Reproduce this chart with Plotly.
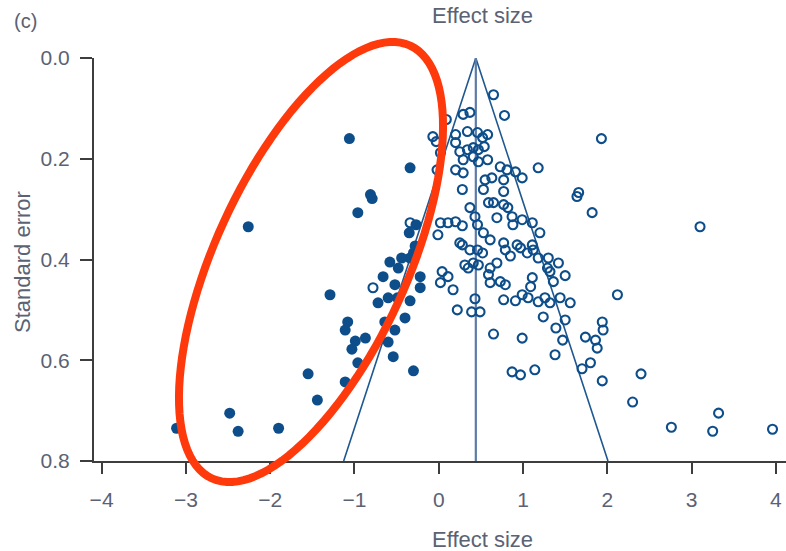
import numpy as np
import plotly.graph_objects as go

# Studies included in the meta-analysis (filled) -- effect size and standard error
observed_es = [-1.06, -0.34, -0.81, -0.79, -0.96, -2.26, -0.27, -0.35, -0.28, -0.30,
               -0.34, -0.44, -0.58, -0.48, -0.66, -0.22, -0.52, -0.22, -1.29, -0.72,
               -0.60, -0.49, -0.34, -0.40, -0.64, -0.52, -1.08, -1.11, -0.99, -0.87,
               -1.03, -0.60, -0.54, -0.96, -1.11, -0.30, -1.55, -1.44, -2.48, -2.38,
               -1.90, -3.11]
observed_se = [0.160, 0.218, 0.271, 0.279, 0.307, 0.335, 0.331, 0.347, 0.373, 0.387,
               0.397, 0.397, 0.405, 0.417, 0.434, 0.434, 0.450, 0.456, 0.470, 0.486,
               0.476, 0.476, 0.482, 0.516, 0.524, 0.540, 0.524, 0.540, 0.562, 0.556,
               0.578, 0.564, 0.593, 0.605, 0.643, 0.621, 0.627, 0.679, 0.705, 0.741,
               0.735, 0.735]

# Imputed studies (open) -- effect size and standard error
imputed_es = [0.65, 0.78, 0.37, 0.29, 0.09, 0.34, 0.20, 0.46, 0.58, 0.52,
              -0.07, -0.03, 0.20, 0.02, 0.25, 0.34, 0.41, 0.47, 0.54, 0.29,
              0.41, 0.47, 0.58, 0.20, 0.29, -0.02, 0.73, 0.81, 0.91, 0.99,
              1.18, 0.55, 0.63, 0.77, 0.28, 0.53, 0.77, 1.66, 1.64, 1.93,
              0.37, 0.59, 0.65, 0.77, 0.82, 1.82, 0.69, 0.87, 0.88, 0.99,
              1.11, 1.20, 0.43, 0.46, 0.53, 0.61, 0.77, 0.93, 1.11, 0.02,
              0.11, 0.20, 0.28, -0.01, 0.25, -0.34, 3.10,
              0.28, 0.37, 0.46, 0.52, 0.41, 0.47, 0.31, 0.35, 0.61, 0.69,
              0.59, 0.61, 0.73, 0.79, 0.79, 0.85, 0.97, 1.05, 1.12, 1.18,
              1.30, 1.42, 1.29, 1.32, 1.11, 1.09, 1.50, 1.36, 0.04, 0.11,
              0.02, 0.17, -0.78, 0.43, 0.39, 0.49, 0.22, 0.77, 0.91, 0.99,
              1.06, 1.18, 1.26, 1.32, 1.44, 1.56, 2.12, 1.24, 1.50,
              1.39, 1.47, 1.94, 1.95, 1.74, 1.86, 1.88, 0.65, 0.99, 1.38,
              0.87, 0.97, 1.14, 1.70, 1.80, 1.94, 2.40, 2.30, 2.76, 3.32,
              3.25, 3.96]
imputed_se = [0.073, 0.114, 0.108, 0.112, 0.122, 0.146, 0.152, 0.148, 0.152, 0.158,
              0.156, 0.166, 0.168, 0.188, 0.186, 0.182, 0.178, 0.182, 0.176, 0.202,
              0.196, 0.206, 0.202, 0.222, 0.228, 0.222, 0.216, 0.222, 0.226, 0.238,
              0.218, 0.242, 0.238, 0.242, 0.261, 0.261, 0.265, 0.267, 0.275, 0.160,
              0.297, 0.287, 0.287, 0.291, 0.297, 0.307, 0.317, 0.315, 0.331, 0.321,
              0.327, 0.347, 0.315, 0.331, 0.347, 0.361, 0.367, 0.371, 0.371, 0.327,
              0.327, 0.325, 0.333, 0.351, 0.367, 0.327, 0.335,
              0.371, 0.381, 0.381, 0.387, 0.407, 0.411, 0.411, 0.417, 0.417, 0.407,
              0.430, 0.446, 0.444, 0.450, 0.381, 0.393, 0.377, 0.387, 0.381, 0.397,
              0.397, 0.407, 0.417, 0.424, 0.436, 0.454, 0.432, 0.444, 0.424, 0.434,
              0.446, 0.460, 0.456, 0.478, 0.504, 0.504, 0.500, 0.480, 0.482, 0.470,
              0.476, 0.484, 0.476, 0.486, 0.476, 0.486, 0.470, 0.514, 0.520,
              0.536, 0.560, 0.524, 0.540, 0.554, 0.560, 0.576, 0.548, 0.556, 0.589,
              0.623, 0.629, 0.619, 0.617, 0.605, 0.641, 0.627, 0.683, 0.733, 0.705,
              0.741, 0.737]

# Pooled (trim-and-fill adjusted) estimate and funnel limits
pooled_es = 0.44
z_crit = 1.96
se_max = 0.8

x_ticks = [-4, -3, -2, -1, 0, 1, 2, 3, 4]
y_ticks = [0.0, 0.2, 0.4, 0.6, 0.8]

BLUE = "#0d4e8a"
TEXT = "#5a6274"
AXIS = "#3d3d3d"
FONT = "Liberation Sans, Arial, sans-serif"

W, H = 786, 551
ML, MR, MT, MB = 94, 0, 58, 90
PW, PH = W - ML - MR, H - MT - MB

fig = go.Figure()

# funnel (pseudo 95% confidence limits) and pooled estimate line
fig.add_trace(go.Scatter(
    x=[pooled_es - z_crit * se_max, pooled_es, pooled_es + z_crit * se_max],
    y=[se_max, 0.0, se_max],
    mode="lines", line=dict(color="#1f5890", width=1.6),
    hoverinfo="skip", showlegend=False))
fig.add_trace(go.Scatter(
    x=[pooled_es, pooled_es], y=[0.0, se_max],
    mode="lines", line=dict(color="#5d7ba6", width=2.2),
    hoverinfo="skip", showlegend=False))

fig.add_trace(go.Scatter(
    x=imputed_es, y=imputed_se, mode="markers",
    marker=dict(symbol="circle-open", size=9, color=BLUE, line=dict(width=2.1, color=BLUE)),
    cliponaxis=False, showlegend=False))
fig.add_trace(go.Scatter(
    x=observed_es, y=observed_se, mode="markers",
    marker=dict(symbol="circle", size=11, color=BLUE, line=dict(width=0)),
    cliponaxis=False, showlegend=False))

# red highlight ellipse around the observed small-study cluster (pixel geometry)
ell_cx, ell_cy = 311, 262          # centre, px
ell_a, ell_b = 238, 96             # semi-axes, px
ell_ang = np.deg2rad(65.4)         # tilt of major axis
t = np.linspace(0, 2 * np.pi, 121)
ux, uy = np.cos(ell_ang), -np.sin(ell_ang)
wx, wy = np.sin(ell_ang), np.cos(ell_ang)
px = ell_cx + ell_a * np.cos(t) * ux + ell_b * np.sin(t) * wx
py = ell_cy + ell_a * np.cos(t) * uy + ell_b * np.sin(t) * wy
qx = (px - ML) / PW
qy = (H - MB - py) / PH
path = "M " + " L ".join(f"{a:.5f},{b:.5f}" for a, b in zip(qx, qy)) + " Z"
fig.add_shape(type="path", path=path, xref="paper", yref="paper",
              line=dict(color="#fe3a0c", width=8), fillcolor="rgba(0,0,0,0)")

x_min = -4.09
x_max = 4.12

fig.update_layout(
    width=W, height=H,
    margin=dict(l=ML, r=MR, t=MT, b=MB),
    paper_bgcolor="white", plot_bgcolor="white",
    font=dict(family=FONT, size=21, color=TEXT),
    xaxis=dict(range=[x_min, x_max], tickvals=x_ticks,
               ticktext=[("\u2212" + str(-v)) if v < 0 else str(v) for v in x_ticks],
               showgrid=False, zeroline=False, showline=True, linecolor=AXIS, linewidth=2,
               ticks="outside", ticklen=11, tickwidth=2, tickcolor=AXIS,
               ticklabelstandoff=8, tickfont=dict(size=21, color=TEXT)),
    yaxis=dict(range=[se_max, 0.0], tickvals=y_ticks,
               ticktext=[f"{v:.1f}" for v in y_ticks],
               showgrid=False, zeroline=False, showline=True, linecolor=AXIS, linewidth=2,
               ticks="outside", ticklen=12, tickwidth=2, tickcolor=AXIS,
               ticklabelstandoff=6, tickfont=dict(size=21, color=TEXT)),
    annotations=[
        dict(text="Effect size", xref="paper", yref="paper",
             x=(482 - ML) / PW, y=(H - MB - 539) / PH, showarrow=False,
             xanchor="center", yanchor="middle", font=dict(size=22, color=TEXT)),
        dict(text="Effect size", xref="paper", yref="paper",
             x=(483 - ML) / PW, y=(H - MB - 15) / PH, showarrow=False,
             xanchor="center", yanchor="middle", font=dict(size=22, color=TEXT)),
        dict(text="Standard error", xref="paper", yref="paper",
             x=(22 - ML) / PW, y=(H - MB - 262) / PH, showarrow=False, textangle=-90,
             xanchor="center", yanchor="middle", font=dict(size=22, color=TEXT)),
        dict(text="(c)", xref="paper", yref="paper",
             x=(25 - ML) / PW, y=(H - MB - 21) / PH, showarrow=False,
             xanchor="center", yanchor="middle", font=dict(size=20, color=TEXT)),
    ],
)

fig.write_html("out.html")
